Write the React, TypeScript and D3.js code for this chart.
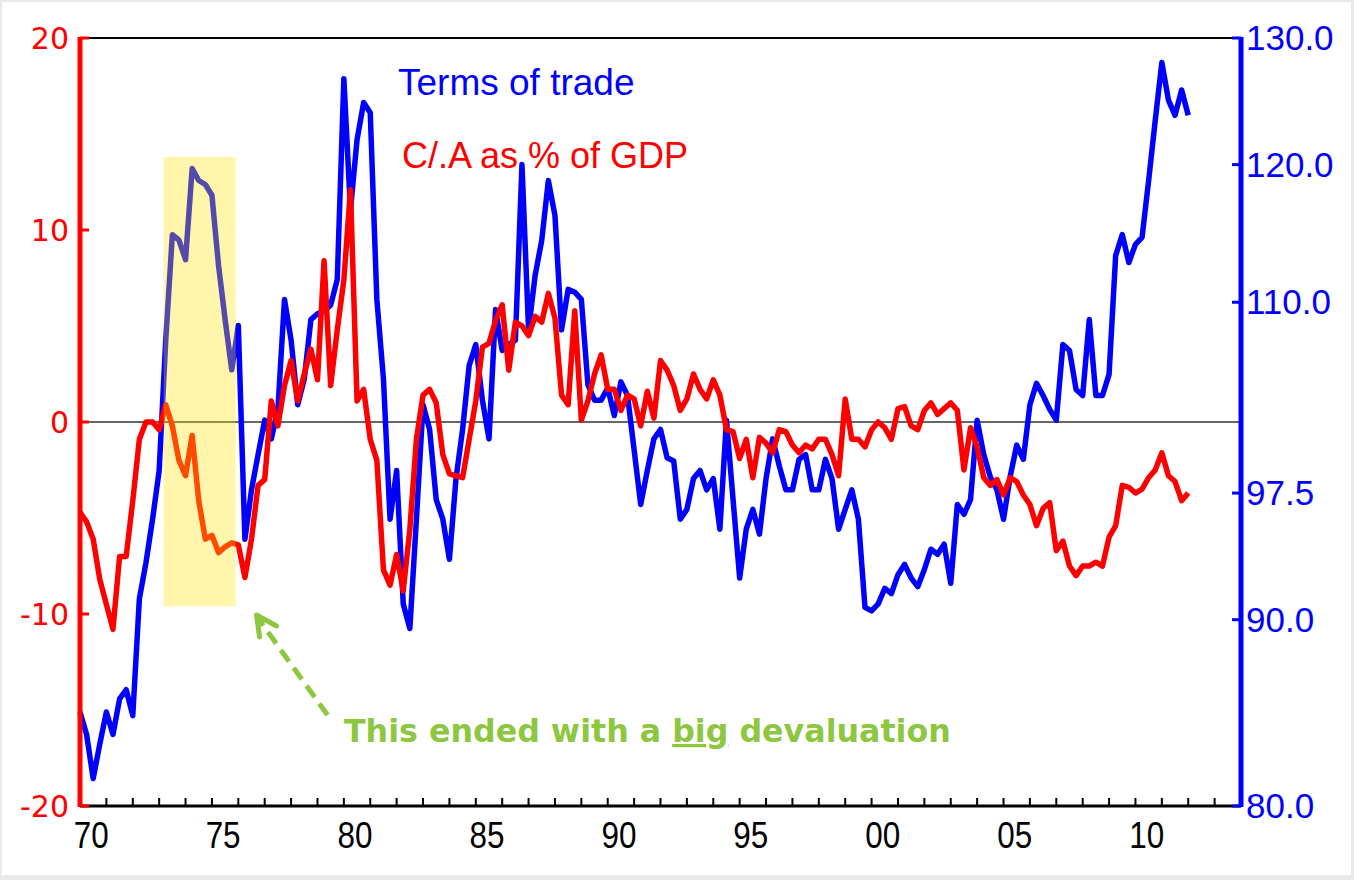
import React from 'react';
import * as d3 from 'd3';

// ---- Data (quarterly, starting 1970 Q1) ----
const startYear = 1970;
const periodsPerYear = 4;

// Current account as % of GDP (left axis)
const caGdp = [
  -4.7, -5.2, -6.1, -8.2, -9.5, -10.8, -7.0, -7.0,
  -4.1, -0.9, 0.0, 0.0, -0.4, 0.9, -0.2, -2.0,
  -2.8, -0.7, -4.1, -6.1, -5.9, -6.8, -6.5, -6.3,
  -6.4, -8.1, -6.1, -3.3, -3.0, 1.1, -0.2, 1.9,
  3.2, 1.1, 2.5, 3.8, 2.2, 8.4, 1.9, 4.8,
  7.4, 12.1, 1.1, 1.7, -0.9, -2.0, -7.7, -8.5,
  -6.9, -8.8, -5.6, -0.9, 1.4, 1.7, 1.0, -1.7,
  -2.7, -2.8, -2.9, -0.9, 1.1, 3.9, 4.1, 5.3,
  6.1, 2.7, 5.2, 5.0, 4.5, 5.5, 5.2, 6.7,
  5.4, 1.4, 0.9, 5.8, 0.1, 1.1, 2.5, 3.5,
  1.7, 1.7, 0.6, 1.4, 1.2, -0.2, 1.6, 0.2,
  3.2, 2.7, 1.9, 0.6, 1.2, 2.5, 1.7, 1.2,
  2.2, 1.4, -0.4, -0.5, -1.9, -0.9, -2.9, -0.8,
  -1.1, -1.6, -0.4, -0.5, -1.2, -1.6, -1.2, -1.4,
  -0.9, -0.9, -1.7, -2.8, 1.2, -0.9, -0.9, -1.3,
  -0.4, 0.0, -0.3, -0.9, 0.7, 0.8, -0.2, -0.4,
  0.6, 1.0, 0.4, 0.7, 1.0, 0.6, -2.5, -0.3,
  -1.3, -2.9, -3.3, -3.0, -3.8, -2.9, -3.1, -3.8,
  -4.3, -5.4, -4.5, -4.2, -6.7, -6.2, -7.5, -8.0,
  -7.5, -7.5, -7.3, -7.5, -6.0, -5.4, -3.3, -3.4,
  -3.7, -3.5, -2.9, -2.5, -1.6, -2.8, -3.1, -4.1,
  -3.7,
];

// Terms of trade index (right axis, log scale)
const termsOfTrade = [
  84.9, 83.7, 81.4, 83.2, 84.9, 83.7, 85.6, 86.1,
  84.7, 91.2, 93.3, 95.9, 98.9, 107.4, 114.8, 114.4,
  113.0, 119.7, 118.8, 118.5, 117.7, 112.6, 108.8, 105.4,
  108.4, 94.7, 97.7, 99.9, 102.1, 100.9, 102.8, 110.2,
  107.4, 103.1, 104.8, 108.8, 109.2, 109.4, 109.8, 111.6,
  126.7, 116.6, 121.9, 124.8, 124.0, 110.2, 104.8, 95.9,
  98.9, 90.9, 89.5, 95.9, 103.1, 101.5, 97.1, 95.9,
  93.5, 98.4, 101.5, 105.7, 107.1, 103.4, 100.9, 109.5,
  106.7, 107.1, 107.4, 120.0, 108.1, 111.9, 114.4, 118.8,
  116.2, 108.1, 110.9, 110.7, 110.2, 104.4, 103.4, 103.4,
  104.2, 102.4, 104.6, 103.7, 100.2, 96.8, 98.9, 100.9,
  101.5, 99.7, 99.5, 95.9, 96.5, 98.4, 98.9, 97.7,
  98.4, 95.3, 102.1, 97.1, 92.4, 95.3, 96.5, 95.0,
  98.4, 100.9, 99.2, 97.7, 97.7, 99.6, 99.9, 97.7,
  97.7, 99.6, 98.4, 95.3, 96.5, 97.7, 95.9, 90.7,
  90.5, 90.9, 91.8, 91.5, 92.6, 93.2, 92.4, 91.9,
  92.9, 94.1, 93.8, 94.4, 92.1, 96.8, 96.2, 97.1,
  102.1, 99.9, 98.5, 97.7, 95.9, 98.5, 100.5, 99.6,
  103.1, 104.5, 103.7, 102.8, 102.1, 107.1, 106.7, 104.1,
  103.7, 108.8, 103.7, 103.7, 105.1, 113.3, 114.8, 112.8,
  114.1, 114.6, 118.8, 123.4, 128.0, 125.0, 123.8, 125.8,
  123.8,
];

const leftTicks = [20, 10, 0, -10, -20];
const rightTicks = [130, 120, 110, 97.5, 90, 80];
const rightTickLabels = ['130.0', '120.0', '110.0', '97.5', '90.0', '80.0'];
const xLabelYears = [1970, 1975, 1980, 1985, 1990, 1995, 2000, 2005, 2010];
const xLabels = ['70', '75', '80', '85', '90', '95', '00', '05', '10'];

// highlighted period (years) and its vertical extent on the left axis
const highlightYears = [1973.17, 1975.9];
const highlightRange = [13.8, -9.6];

const W = 1354;
const H = 880;
const left = 80;
const right = 1241;
const top = 38;
const bottom = 806;

export default function App() {
  const x = d3.scaleLinear().domain([1970, 2014]).range([left, right]);
  const yL = d3.scaleLinear().domain([-20, 20]).range([bottom, top]);
  const yR = d3.scaleLog().domain([80, 130]).range([bottom, top]);

  const t = (i: number) => startYear + i / periodsPerYear;

  const redLine = d3
    .line<number>()
    .x((_, i) => x(t(i)))
    .y((d) => yL(d));
  const blueLine = d3
    .line<number>()
    .x((_, i) => x(t(i)))
    .y((d) => yR(d));

  const yearTicks = d3.range(1971, 2014);
  const green = '#8DC63F';

  // annotation arrow (in data space)
  const tip = [x(1976.69), yL(-10.05)];
  const tail = [x(1979.38), yL(-15.26)];

  return (
    <svg
      width={W}
      height={H}
      style={{ position: 'absolute', left: 0, top: 0, display: 'block' }}
      fontFamily="'Liberation Sans', Arial, sans-serif"
    >
      <rect x={0} y={0} width={W} height={H} fill="#e9e9e9" />
      <rect x={2} y={2} width={W - 5} height={H - 7} fill="#ffffff" />

      {/* top frame */}
      <line x1={left} x2={right} y1={top} y2={top} stroke="#000" strokeWidth={2} />
      {/* zero line */}
      <line x1={left} x2={right} y1={yL(0)} y2={yL(0)} stroke="#333" strokeWidth={1.5} />

      {/* series */}
      <path d={blueLine(termsOfTrade) || ''} fill="none" stroke="#0000FF" strokeWidth={5.5} strokeLinejoin="round" />
      <path d={redLine(caGdp) || ''} fill="none" stroke="#FF0000" strokeWidth={5.5} strokeLinejoin="round" />

      {/* highlight */}
      <rect
        x={x(highlightYears[0])}
        y={yL(highlightRange[0])}
        width={x(highlightYears[1]) - x(highlightYears[0])}
        height={yL(highlightRange[1]) - yL(highlightRange[0])}
        fill="#FFE000"
        fillOpacity={0.33}
      />

      {/* bottom axis */}
      <line x1={left} x2={right} y1={bottom} y2={bottom} stroke="#000" strokeWidth={3} />
      {yearTicks.map((yr) => (
        <line key={yr} x1={x(yr)} x2={x(yr)} y1={bottom} y2={bottom - 8} stroke="#000" strokeWidth={2} />
      ))}
      {xLabelYears.map((yr, i) => (
        <text
          key={yr}
          transform={`translate(${x(yr + 0.5) - 2},${bottom + 42}) scale(0.85,1)`}
          textAnchor="middle"
          fontSize={37}
          fill="#000"
        >
          {xLabels[i]}
        </text>
      ))}

      {/* left axis */}
      <line x1={left} x2={left} y1={top - 1} y2={bottom + 1} stroke="#FF0000" strokeWidth={5} />
      {leftTicks.map((v) => (
        <g key={v}>
          <line x1={left} x2={left + 9} y1={yL(v)} y2={yL(v)} stroke="#FF0000" strokeWidth={3} />
          <text
            x={69}
            y={yL(v) + 11}
            textAnchor="end"
            fontSize={30}
            fontFamily="'DejaVu Sans', Verdana, sans-serif"
            fill="#FF0000"
          >
            {v}
          </text>
        </g>
      ))}

      {/* right axis */}
      <line x1={right} x2={right} y1={top - 1} y2={bottom + 1} stroke="#0000FF" strokeWidth={5} />
      {rightTicks.map((v, i) => (
        <g key={v}>
          <line x1={right - 9} x2={right} y1={yR(v)} y2={yR(v)} stroke="#0000FF" strokeWidth={3} />
          <text x={1246} y={yR(v) + 12} textAnchor="start" fontSize={35} fill="#0000FF">
            {rightTickLabels[i]}
          </text>
        </g>
      ))}

      {/* legend labels */}
      <text x={398} y={95} fontSize={37} fill="#0000FF">
        Terms of trade
      </text>
      <text x={402} y={168} fontSize={36} fill="#FF0000">
        C/.A as % of GDP
      </text>

      {/* annotation */}
      <line
        x1={tail[0]}
        y1={tail[1]}
        x2={tip[0] + 2}
        y2={tip[1] + 4}
        stroke={green}
        strokeWidth={5}
        strokeDasharray="14 8"
      />
      <polyline
        points={`${tip[0] + 3},${tip[1] + 22} ${tip[0]},${tip[1]} ${tip[0] + 20},${tip[1] + 11}`}
        fill="none"
        stroke={green}
        strokeWidth={5}
        strokeLinecap="round"
        strokeLinejoin="round"
      />
      <text
        x={344}
        y={742}
        fontFamily="'DejaVu Sans', Verdana, sans-serif"
        fontWeight="bold"
        fontSize={31.7}
        fill={green}
      >
        This ended with a <tspan textDecoration="underline">big</tspan> devaluation
      </text>
    </svg>
  );
}
